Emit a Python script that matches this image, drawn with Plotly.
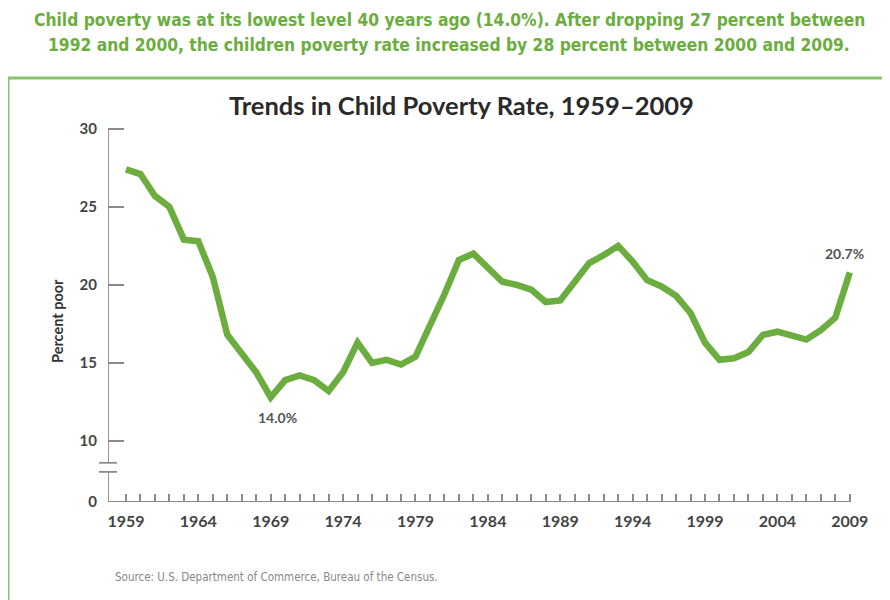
import plotly.graph_objects as go

# ---- data ----
years = list(range(1959, 2010))
rate = [27.4, 27.1, 25.7, 25.0, 22.9, 22.8, 20.5, 16.8, 15.6, 14.4,
        12.8, 13.9, 14.2, 13.9, 13.2, 14.4, 16.3, 15.0, 15.2, 14.9,
        15.4, 17.3, 19.4, 21.6, 22.0, 21.1, 20.2, 20.0, 19.7, 18.9,
        19.0, 20.2, 21.4, 21.9, 22.5, 21.5, 20.3, 19.9, 19.3, 18.2,
        16.3, 15.2, 15.3, 15.7, 16.8, 17.0, 16.8, 16.5, 17.1, 17.9,
        20.8]
label_years = [1969, 2009]
label_texts = ["14.0%", "20.7%"]

y_tick_labels = ["0", "10", "15", "20", "25", "30"]
y_tick_values_upper = [10, 15, 20, 25, 30]
BREAK_ZERO = 6.09          # where the "0" of the broken axis sits
BREAK_LO, BREAK_HI = 8.02, 8.6

x_tick_text = [str(y) if (y - 1959) % 5 == 0 else "" for y in years]

OFF = 8  # page body margin
W, H = 890, 600
L, T = 108 - OFF, 121 - OFF
B = H - (502 - OFF)
R = W - (857 - OFF)
PW, PH = W - L - R, H - T - B

def px_x(p):
    return (p - OFF - L) / PW

def px_y(p):
    return (H - B - (p - OFF)) / PH

GREEN = "#6cad3f"
GRAY = "#8a8a8a"
COND = "DejaVu Sans Condensed, Liberation Sans Narrow, Roboto, sans-serif"

fig = go.Figure()
fig.add_trace(go.Scatter(
    x=years, y=rate, mode="lines",
    line=dict(color=GREEN, width=6.5),
    hoverinfo="skip", showlegend=False))

for yr, txt in zip(label_years, label_texts):
    v = rate[years.index(yr)]
    if yr == 1969:
        xs, ys = 7, -20
    else:
        xs, ys = -5, 19
    fig.add_annotation(x=yr, y=v, text=txt, showarrow=False,
                       xshift=xs, yshift=ys,
                       font=dict(family="Lato", size=14, color="#555", weight="bold"))

shapes = []
shapes.append(dict(type="line", xref="x", yref="y", x0=1957.76, x1=2009,
                   y0=BREAK_ZERO, y1=BREAK_ZERO, line=dict(color=GRAY, width=1.8)))
shapes.append(dict(type="line", xref="x", yref="y", x0=1957.76, x1=1957.76,
                   y0=BREAK_ZERO, y1=BREAK_LO, line=dict(color=GRAY, width=1.8)))
shapes.append(dict(type="line", xref="x", yref="y", x0=1957.76, x1=1957.76,
                   y0=BREAK_HI, y1=30, line=dict(color=GRAY, width=1.8)))
for bv in (BREAK_LO, BREAK_HI):
    shapes.append(dict(type="line", xref="paper", yref="y",
                       x0=px_x(99), x1=px_x(117), y0=bv, y1=bv,
                       line=dict(color=GRAY, width=1.8)))
shapes.append(dict(type="rect", xref="paper", yref="paper",
                   x0=px_x(8), x1=px_x(910), y0=px_y(78), y1=px_y(620),
                   line=dict(color="#8cc46c", width=3), layer="below"))

fig.update_layout(
    width=W, height=H,
    margin=dict(l=L, r=R, t=T, b=B, pad=0),
    paper_bgcolor="white", plot_bgcolor="white",
    shapes=shapes,
    xaxis=dict(range=[1957.76, 2009.5], showgrid=False, zeroline=False,
               showline=False, ticks="inside", ticklen=8, tickwidth=1.5,
               tickcolor=GRAY, tickvals=years, ticktext=x_tick_text,
               ticklabelstandoff=8,
               tickfont=dict(family="Lato", size=16, color="#444", weight="bold")),
    yaxis=dict(range=[BREAK_ZERO, 30.5], showgrid=False, zeroline=False,
               showline=False, ticks="inside", ticklen=16, tickwidth=1.5,
               tickcolor=GRAY, tickvals=[BREAK_ZERO] + y_tick_values_upper,
               ticktext=y_tick_labels, ticklabelstandoff=10,
               tickfont=dict(family="Lato", size=15, color="#444", weight="bold")),
)

fig.add_annotation(xref="paper", yref="paper", x=px_x(461), y=px_y(105),
                   text="Trends in Child Poverty Rate, 1959–2009", showarrow=False,
                   xanchor="center", yanchor="middle",
                   font=dict(family="Lato", size=25.5, color="#2a2a2a", weight="bold"))
fig.add_annotation(xref="paper", yref="paper", x=px_x(449), y=px_y(20),
                   text="Child poverty was at its lowest level 40 years ago (14.0%). After dropping 27 percent between",
                   showarrow=False, xanchor="center", yanchor="middle",
                   font=dict(family=COND, size=17.3, color=GREEN, weight="bold"))
fig.add_annotation(xref="paper", yref="paper", x=px_x(449), y=px_y(45),
                   text="1992 and 2000, the children poverty rate increased by 28 percent between 2000 and 2009.",
                   showarrow=False, xanchor="center", yanchor="middle",
                   font=dict(family=COND, size=17.3, color=GREEN, weight="bold"))
fig.add_annotation(xref="paper", yref="paper", x=px_x(57), y=px_y(321),
                   text="Percent poor", textangle=-90, showarrow=False,
                   xanchor="center", yanchor="middle",
                   font=dict(family="Lato", size=14.5, color="#333", weight="bold"))
fig.add_annotation(xref="paper", yref="paper", x=px_x(113), y=px_y(577),
                   text="Source: U.S. Department of Commerce, Bureau of the Census.",
                   showarrow=False, xanchor="left", yanchor="middle",
                   font=dict(family=COND, size=11.5, color="#888"))

fig.write_html("out.html")
